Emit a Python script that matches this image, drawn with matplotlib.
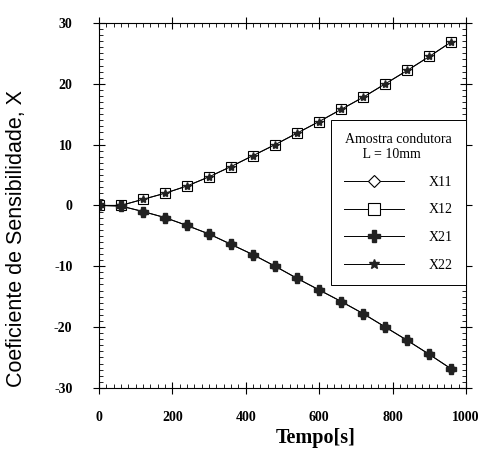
import numpy as np
import matplotlib
matplotlib.use("Agg")
import matplotlib.pyplot as plt
from matplotlib.ticker import MultipleLocator

plt.rcParams["axes.unicode_minus"] = False

# Data
tempo = [0, 60, 120, 180, 240, 300, 360, 420, 480, 540, 600, 660, 720, 780, 840, 900, 960]
x_pos = [0.0, 0.0, 1.0, 2.0, 3.2, 4.7, 6.4, 8.2, 10.0, 11.9, 13.8, 15.8, 17.8, 20.0, 22.2, 24.5, 26.9]
x_neg = [0.0, -0.1, -1.0, -2.0, -3.3, -4.7, -6.4, -8.1, -10.0, -12.0, -13.9, -15.8, -17.8, -20.0, -22.2, -24.5, -26.9]

fig = plt.figure(figsize=(4.87, 4.51), dpi=100)
ax = fig.add_axes([0.203, 0.140, 0.754, 0.809])

serif = "Liberation Serif"
lw = 0.7
ax.plot(tempo, x_neg, color="black", lw=lw, marker="D", ms=5, mfc="white", mec="black", mew=0.8, label="X11")
ax.plot(tempo, x_pos, color="black", lw=lw, marker="s", ms=6.5, mfc="white", mec="black", mew=0.8, label="X12")
ax.plot(tempo, x_neg, color="black", lw=lw, marker="P", ms=7, mfc="#222222", mec="#222222", label="X21")
ax.plot(tempo, x_pos, color="black", lw=lw, marker="*", ms=6, mfc="#222222", mec="#222222", label="X22")

ax.set_xlim(0, 1000)
ax.set_ylim(-30, 30)
ax.xaxis.set_major_locator(MultipleLocator(200))
ax.xaxis.set_minor_locator(MultipleLocator(20))
ax.yaxis.set_major_locator(MultipleLocator(10))
ax.yaxis.set_minor_locator(MultipleLocator(1))
ax.tick_params(which="major", direction="inout", length=8, width=0.8, top=True, right=True)
ax.tick_params(which="minor", direction="in", length=3, width=0.6, top=True, right=True)
for s in ax.spines.values():
    s.set_linewidth(0.8)

for lab in ax.get_xticklabels() + ax.get_yticklabels():
    lab.set_fontfamily(serif)
    lab.set_fontweight("bold")
    lab.set_fontsize(10)
ax.tick_params(axis="x", pad=13)
ax.tick_params(axis="y", pad=15)

ax.set_xlabel("Tempo[s]", fontfamily=serif, fontweight="bold", fontsize=14.5)
ax.xaxis.set_label_coords(0.59, -0.11)
ax.set_ylabel("Coeficiente de Sensibilidade, X", fontfamily="Liberation Sans", fontsize=15.5)
ax.yaxis.set_label_coords(-0.196, 0.408)

leg = ax.legend(loc="upper right", bbox_to_anchor=(1.0, 0.734), title="Amostra condutora\n     L = 10mm",
                prop={"family": serif, "size": 10}, title_fontproperties={"family": serif, "size": 10},
                fancybox=False, edgecolor="black", framealpha=1, borderpad=0.95, labelspacing=1.05,
                handlelength=4.3, handletextpad=1.8, borderaxespad=0, markerscale=1.3)
leg.get_frame().set_linewidth(0.7)

fig.savefig("out.png", dpi=100)
